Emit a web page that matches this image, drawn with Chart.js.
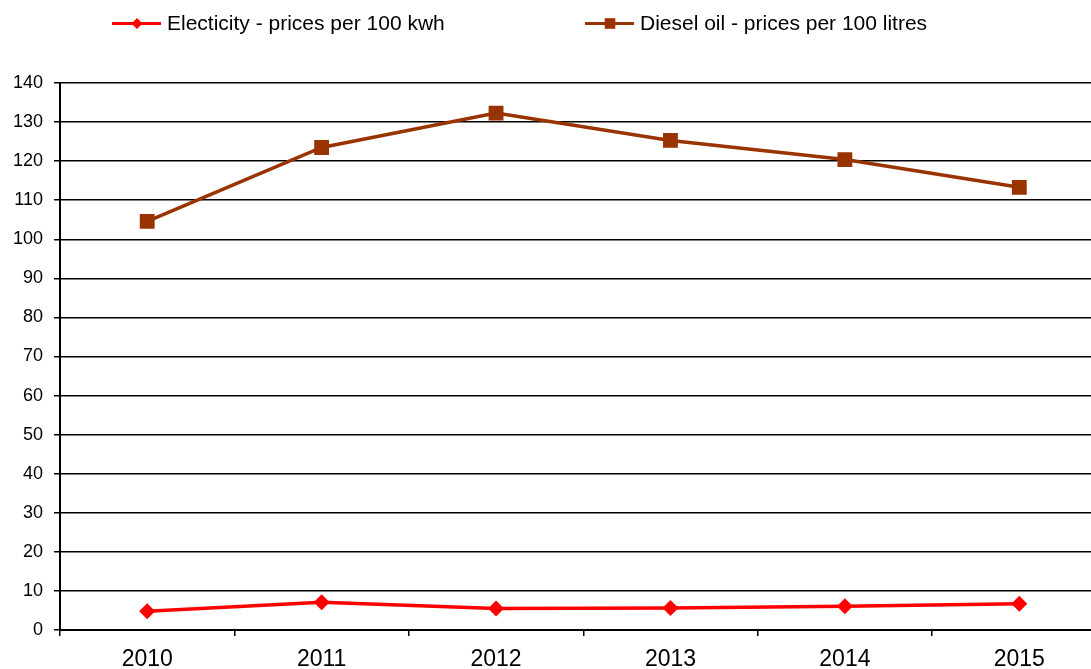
<!DOCTYPE html>
<html lang="en">
<head>
    <meta charset="UTF-8">
    <title>Electricity and diesel prices</title>
    <script src="https://cdn.jsdelivr.net/npm/chart.js"></script>
    <style>
        html, body { margin: 0; padding: 0; overflow: hidden; background: #fff; }
    </style>
</head>
<body>
<canvas id="priceChart" width="1117" height="680"></canvas>

<script>
    // data
    const years = ['2010', '2011', '2012', '2013', '2014', '2015'];
    const electricity = [4.8, 7.1, 5.5, 5.6, 6.1, 6.7];
    const diesel = [104.6, 123.5, 132.3, 125.3, 120.4, 113.3];
    const yTicks = [0, 10, 20, 30, 40, 50, 60, 70, 80, 90, 100, 110, 120, 130, 140];

    const fontFamily = '"Liberation Sans", Arial, sans-serif';

    // legend drawn by hand: line with a small marker, then the label
    const lineLegend = {
        id: 'lineLegend',
        afterDraw(chart) {
            const ctx = chart.ctx;
            const items = [
                { ds: chart.data.datasets[0], x: 112, r: 5.5 },
                { ds: chart.data.datasets[1], x: 585, r: 7.5 }
            ];
            const y = 23.5;
            ctx.save();
            items.forEach(item => {
                const ds = item.ds;
                ctx.strokeStyle = ds.borderColor;
                ctx.lineWidth = 3;
                ctx.beginPath();
                ctx.moveTo(item.x, y);
                ctx.lineTo(item.x + 49, y);
                ctx.stroke();
                ctx.fillStyle = ds.borderColor;
                Chart.helpers.drawPoint(ctx, {
                    pointStyle: ds.pointStyle,
                    radius: item.r,
                    rotation: 0,
                    borderWidth: 0
                }, item.x + 25, y);
                ctx.fillStyle = '#000';
                ctx.font = '21px ' + fontFamily;
                ctx.textBaseline = 'middle';
                ctx.textAlign = 'left';
                ctx.fillText(ds.label, item.x + 55, y + 1);
            });
            ctx.restore();
        }
    };

    const ctx = document.getElementById('priceChart').getContext('2d');
    const priceChart = new Chart(ctx, {
        type: 'line',
        data: {
            labels: years,
            datasets: [
                {
                    label: 'Electicity - prices per 100 kwh',
                    data: electricity,
                    borderColor: '#ff0000',
                    backgroundColor: '#ff0000',
                    borderWidth: 3.5,
                    pointStyle: 'rectRot',
                    pointRadius: 8,
                    pointBorderWidth: 0,
                    tension: 0
                },
                {
                    label: 'Diesel oil - prices per 100 litres',
                    data: diesel,
                    borderColor: '#993300',
                    backgroundColor: '#993300',
                    borderWidth: 3.5,
                    pointStyle: 'rect',
                    pointRadius: 10.5,
                    pointBorderWidth: 0,
                    tension: 0
                }
            ]
        },
        options: {
            responsive: false,
            animation: false,
            layout: { padding: { top: 83, right: 0, bottom: 0, left: 0 } },
            plugins: {
                legend: { display: false },
                tooltip: { enabled: false }
            },
            scales: {
                x: {
                    offset: true,
                    afterFit: scale => { scale.height = 50; },
                    grid: {
                        offset: true,
                        drawOnChartArea: false,
                        drawTicks: true,
                        tickLength: 6,
                        color: '#000',
                        lineWidth: 1.5
                    },
                    border: { color: '#000', width: 2 },
                    ticks: {
                        color: '#000',
                        padding: 10,
                        font: { family: fontFamily, size: 23 }
                    }
                },
                y: {
                    min: 0,
                    max: 140,
                    afterFit: scale => { scale.width = 60; },
                    afterBuildTicks: scale => {
                        scale.ticks = yTicks.map(v => ({ value: v }));
                    },
                    grid: {
                        color: '#000',
                        lineWidth: 1.5,
                        tickLength: 6
                    },
                    border: { color: '#000', width: 2 },
                    ticks: {
                        color: '#000',
                        padding: 11,
                        font: { family: fontFamily, size: 18 }
                    }
                }
            }
        },
        plugins: [lineLegend]
    });
</script>
</body>
</html>
